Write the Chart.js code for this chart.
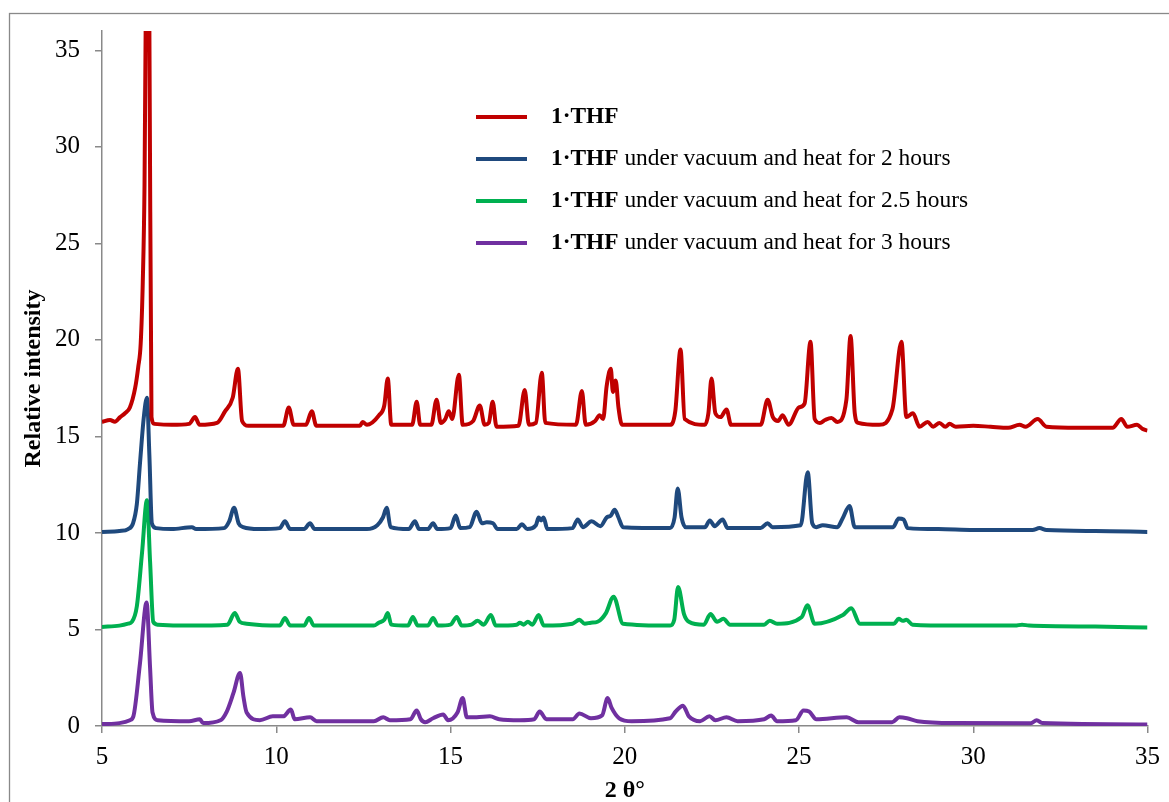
<!DOCTYPE html>
<html>
<head>
<meta charset="utf-8">
<title>PXRD 1·THF</title>
<script src="https://cdn.jsdelivr.net/npm/chart.js@4/dist/chart.umd.min.js"></script>
<style>
  html, body { margin: 0; padding: 0; background: #fff; overflow: hidden; }
  canvas { display: block; }
</style>
</head>
<body>
<canvas id="xrd" width="1169" height="802"></canvas>
<script>
// axis ticks
const xTicks = [5, 10, 15, 20, 25, 30, 35];
const yTicks = [0, 5, 10, 15, 20, 25, 30, 35];

// legend text: bold part + plain part
const boldName = '1·THF';
const labelTails = ['', ' under vacuum and heat for 2 hours', ' under vacuum and heat for 2.5 hours', ' under vacuum and heat for 3 hours'];

// 1·THF (as made)
const thfX = [5.0, 5.23, 5.37, 5.52, 5.66, 5.8, 5.95, 6.04, 6.11, 6.17, 6.22, 6.26, 6.31, 6.36, 6.42, 6.5, 7.0, 7.5, 7.67, 7.8, 8.3, 8.53, 8.75, 8.9, 9.02, 9.2, 10.2, 10.36, 10.5, 10.85, 11.02, 11.15, 12.4, 12.48, 12.6, 12.95, 13.1, 13.2, 13.3, 13.9, 14.03, 14.13, 14.45, 14.6, 14.72, 14.85, 14.95, 15.05, 15.24, 15.35, 15.65, 15.84, 15.98, 16.1, 16.21, 16.32, 16.95, 17.13, 17.25, 17.45, 17.62, 17.72, 18.6, 18.77, 18.88, 19.15, 19.28, 19.38, 19.48, 19.6, 19.66, 19.74, 19.82, 19.92, 21.3, 21.45, 21.6, 21.72, 22.3, 22.4, 22.49, 22.6, 22.75, 22.92, 23.05, 23.9, 24.1, 24.25, 24.4, 24.53, 24.7, 25.0, 25.16, 25.33, 25.45, 25.6, 25.75, 25.93, 26.1, 26.36, 26.48, 26.6, 26.7, 27.3, 27.68, 27.94, 28.08, 28.27, 28.46, 28.69, 28.85, 29.03, 29.2, 29.32, 29.5, 30.0, 30.5, 31.0, 31.33, 31.5, 31.85, 32.1, 33.0, 34.0, 34.25, 34.42, 34.7, 34.85, 35.0];
const thfY = [15.75, 15.85, 15.76, 16.0, 16.2, 16.5, 17.5, 18.6, 19.8, 23.0, 28.0, 38.0, 42.0, 36.0, 16.0, 15.65, 15.6, 15.65, 16.0, 15.6, 15.7, 16.3, 17.0, 18.5, 15.8, 15.55, 15.55, 16.5, 15.6, 15.6, 16.3, 15.55, 15.55, 15.75, 15.6, 16.1, 16.6, 18.0, 15.6, 15.6, 16.8, 15.6, 15.6, 16.9, 15.7, 15.9, 16.3, 15.9, 18.2, 15.6, 15.8, 16.6, 15.6, 15.7, 16.8, 15.5, 15.55, 17.4, 15.6, 15.7, 18.3, 15.7, 15.6, 17.35, 15.6, 15.8, 16.1, 15.9, 17.6, 18.5, 17.3, 17.9, 16.5, 15.6, 15.6, 16.3, 19.5, 15.9, 15.6, 16.2, 18.0, 16.2, 16.0, 16.4, 15.6, 15.6, 16.9, 16.0, 15.8, 16.1, 15.6, 16.5, 16.7, 19.9, 15.9, 15.7, 15.85, 15.95, 15.75, 16.9, 20.2, 16.2, 15.7, 15.6, 16.4, 19.9, 16.0, 16.2, 15.5, 15.75, 15.5, 15.7, 15.5, 15.65, 15.5, 15.55, 15.5, 15.45, 15.6, 15.5, 15.9, 15.5, 15.45, 15.45, 15.9, 15.5, 15.6, 15.4, 15.3];

// 2 hours
const h2X = [5.0, 5.5, 5.75, 5.89, 6.0, 6.09, 6.2, 6.29, 6.36, 6.43, 6.55, 7.0, 7.58, 7.7, 8.5, 8.65, 8.79, 8.92, 9.05, 9.5, 10.1, 10.25, 10.4, 10.8, 10.97, 11.1, 12.6, 12.9, 13.06, 13.17, 13.28, 13.8, 13.98, 14.1, 14.35, 14.5, 14.62, 15.0, 15.15, 15.28, 15.55, 15.75, 15.9, 16.04, 16.22, 16.35, 16.9, 17.05, 17.2, 17.45, 17.53, 17.6, 17.67, 17.78, 18.5, 18.65, 18.8, 19.05, 19.3, 19.48, 19.6, 19.71, 19.82, 19.95, 21.3, 21.43, 21.52, 21.63, 21.75, 22.3, 22.44, 22.58, 22.81, 22.95, 23.9, 24.1, 24.24, 25.05, 25.25, 25.38, 25.5, 25.68, 26.1, 26.25, 26.45, 26.6, 27.7, 27.86, 28.0, 28.12, 29.0, 30.0, 31.7, 31.9, 32.1, 33.5, 35.0];
const h2Y = [10.05, 10.1, 10.2, 10.5, 11.5, 13.6, 16.0, 17.0, 14.0, 10.5, 10.25, 10.2, 10.3, 10.2, 10.25, 10.6, 11.3, 10.5, 10.3, 10.2, 10.25, 10.6, 10.2, 10.2, 10.5, 10.2, 10.2, 10.4, 10.8, 11.3, 10.3, 10.2, 10.6, 10.2, 10.2, 10.5, 10.2, 10.25, 10.9, 10.25, 10.3, 11.1, 10.5, 10.55, 10.5, 10.2, 10.2, 10.45, 10.2, 10.4, 10.8, 10.65, 10.8, 10.2, 10.25, 10.7, 10.3, 10.6, 10.35, 10.8, 10.9, 11.2, 10.8, 10.3, 10.25, 10.8, 12.3, 10.8, 10.3, 10.3, 10.65, 10.35, 10.7, 10.25, 10.25, 10.5, 10.3, 10.4, 13.15, 10.5, 10.3, 10.4, 10.3, 10.75, 11.4, 10.3, 10.3, 10.75, 10.7, 10.25, 10.2, 10.15, 10.15, 10.25, 10.15, 10.1, 10.05];

// 2.5 hours
const h25X = [5.0, 5.5, 5.75, 5.86, 6.0, 6.15, 6.29, 6.38, 6.47, 6.6, 7.5, 8.6, 8.81, 8.95, 9.15, 10.1, 10.25, 10.4, 10.8, 10.94, 11.08, 12.8, 12.94, 13.1, 13.2, 13.3, 13.78, 13.92, 14.06, 14.35, 14.5, 14.64, 15.0, 15.18, 15.32, 15.6, 15.78, 15.95, 16.16, 16.3, 16.9, 16.99, 17.1, 17.22, 17.35, 17.53, 17.68, 18.5, 18.7, 18.85, 19.03, 19.22, 19.46, 19.68, 19.95, 21.3, 21.42, 21.53, 21.7, 21.84, 22.27, 22.46, 22.65, 22.83, 23.02, 24.0, 24.16, 24.37, 25.08, 25.24, 25.45, 26.26, 26.5, 26.75, 27.72, 27.86, 27.98, 28.08, 28.26, 29.5, 31.2, 31.4, 31.6, 33.5, 35.0];
const h25Y = [5.13, 5.2, 5.3, 5.4, 6.2, 9.0, 11.7, 8.5, 5.4, 5.25, 5.2, 5.25, 5.85, 5.4, 5.3, 5.2, 5.6, 5.2, 5.2, 5.6, 5.2, 5.2, 5.35, 5.5, 5.85, 5.25, 5.2, 5.65, 5.2, 5.2, 5.6, 5.2, 5.25, 5.65, 5.2, 5.25, 5.45, 5.25, 5.75, 5.2, 5.25, 5.35, 5.25, 5.4, 5.25, 5.75, 5.2, 5.3, 5.5, 5.3, 5.35, 5.4, 5.85, 6.7, 5.3, 5.2, 5.5, 7.2, 5.8, 5.4, 5.25, 5.8, 5.4, 5.55, 5.25, 5.25, 5.45, 5.3, 5.65, 6.25, 5.3, 5.75, 6.1, 5.3, 5.3, 5.55, 5.45, 5.5, 5.25, 5.2, 5.2, 5.25, 5.2, 5.15, 5.1];

// 3 hours
const h3X = [5.0, 5.5, 5.8, 5.9, 6.09, 6.28, 6.38, 6.45, 6.6, 7.5, 7.81, 7.9, 8.4, 8.58, 8.77, 8.96, 9.06, 9.15, 9.53, 9.9, 10.2, 10.42, 10.53, 10.97, 11.16, 12.8, 13.07, 13.26, 13.85, 14.03, 14.15, 14.27, 14.5, 14.79, 14.93, 15.2, 15.35, 15.47, 15.75, 16.13, 16.4, 16.99, 17.4, 17.56, 17.75, 18.51, 18.7, 19.03, 19.35, 19.51, 19.62, 19.84, 20.2, 21.3, 21.46, 21.67, 21.84, 22.16, 22.43, 22.6, 22.92, 23.24, 24.0, 24.2, 24.37, 24.91, 25.13, 25.29, 25.5, 26.37, 26.7, 27.67, 27.88, 28.1, 28.4, 29.5, 31.65, 31.82, 31.98, 35.0];
const h3Y = [0.1, 0.15, 0.3, 0.5, 3.25, 6.4, 3.0, 0.7, 0.3, 0.25, 0.35, 0.15, 0.3, 0.75, 1.7, 2.75, 1.5, 0.7, 0.3, 0.5, 0.5, 0.85, 0.35, 0.45, 0.25, 0.25, 0.45, 0.3, 0.35, 0.8, 0.35, 0.2, 0.4, 0.6, 0.3, 0.7, 1.45, 0.45, 0.45, 0.5, 0.35, 0.3, 0.35, 0.75, 0.35, 0.35, 0.65, 0.4, 0.55, 1.45, 0.95, 0.4, 0.25, 0.4, 0.75, 1.05, 0.5, 0.25, 0.5, 0.3, 0.45, 0.25, 0.35, 0.55, 0.25, 0.3, 0.8, 0.75, 0.35, 0.45, 0.2, 0.2, 0.45, 0.4, 0.25, 0.15, 0.14, 0.3, 0.15, 0.08];

const toPoints = (xs, ys) => xs.map((x, i) => ({ x: x, y: ys[i] }));

function series(label, xs, ys, color) {
    return {
        label: label,
        data: toPoints(xs, ys),
        borderColor: color,
        backgroundColor: color,
        borderWidth: 4,
        pointRadius: 0,
        cubicInterpolationMode: 'monotone',
        fill: false
    };
}

const serif = 'Liberation Serif, Times New Roman, serif';
const axisGrey = '#898989';

// legend with a bold compound name, drawn by hand
const mixedLegend = {
    id: 'mixedLegend',
    afterDraw(chart) {
        const ctx = chart.ctx;
        const area = chart.chartArea;
        const lineX = area.left + 374;
        const textX = area.left + 449;
        ctx.save();
        ctx.textBaseline = 'middle';
        chart.data.datasets.forEach((ds, i) => {
            const y = area.top + 86 + i * 42;
            ctx.strokeStyle = ds.borderColor;
            ctx.lineWidth = 4;
            ctx.beginPath();
            ctx.moveTo(lineX, y);
            ctx.lineTo(lineX + 51, y);
            ctx.stroke();
            ctx.fillStyle = '#000';
            ctx.font = 'bold 23.4px ' + serif;
            ctx.fillText(boldName, textX, y);
            const w = ctx.measureText(boldName).width;
            ctx.font = '23.4px ' + serif;
            ctx.fillText(labelTails[i], textX + w, y);
        });
        ctx.restore();
    }
};

// outer frame of the chart object
const frame = {
    id: 'frame',
    beforeDraw(chart) {
        const ctx = chart.ctx;
        ctx.save();
        ctx.fillStyle = '#fff';
        ctx.fillRect(0, 0, chart.width, chart.height);
        ctx.strokeStyle = axisGrey;
        ctx.lineWidth = 1.3;
        ctx.strokeRect(9.5, 13.5, 1300, 900);
        ctx.restore();
    }
};

new Chart(document.getElementById('xrd'), {
    type: 'line',
    data: {
        datasets: [
            series(boldName + labelTails[0], thfX, thfY, '#C00000'),
            series(boldName + labelTails[1], h2X, h2Y, '#1F497D'),
            series(boldName + labelTails[2], h25X, h25Y, '#00B050'),
            series(boldName + labelTails[3], h3X, h3Y, '#7030A0')
        ]
    },
    options: {
        responsive: false,
        animation: false,
        layout: { padding: { left: 10, top: 31, right: 21, bottom: 0 } },
        plugins: {
            legend: { display: false },
            tooltip: { enabled: false }
        },
        scales: {
            x: {
                type: 'linear',
                min: 5,
                max: 35,
                afterBuildTicks: s => { s.ticks = xTicks.map(v => ({ value: v })); },
                afterFit: s => { s.height = 76; },
                border: { color: axisGrey, width: 1.5 },
                grid: { drawOnChartArea: false, drawTicks: true, tickLength: 7, color: axisGrey, lineWidth: 1.5 },
                ticks: { color: '#000', padding: 9, maxRotation: 0, font: { family: serif, size: 25 } },
                title: {
                    display: true,
                    text: '2 θ°',
                    color: '#000',
                    padding: { top: 0, bottom: 0 },
                    font: { family: serif, size: 24, weight: 'bold', lineHeight: 0.9 }
                }
            },
            y: {
                type: 'linear',
                min: 0,
                max: 36,
                afterBuildTicks: s => { s.ticks = yTicks.map(v => ({ value: v })); },
                afterFit: s => { s.width = 92; },
                border: { color: axisGrey, width: 1.5 },
                grid: { drawOnChartArea: false, drawTicks: true, tickLength: 7, color: axisGrey, lineWidth: 1.5 },
                ticks: { color: '#000', padding: 15, font: { family: serif, size: 25 } },
                title: {
                    display: true,
                    text: 'Relative intensity',
                    color: '#000',
                    padding: { top: 11, bottom: 0 },
                    font: { family: serif, size: 24, weight: 'bold', lineHeight: 1.1 }
                }
            }
        }
    },
    plugins: [frame, mixedLegend]
});
</script>
</body>
</html>
